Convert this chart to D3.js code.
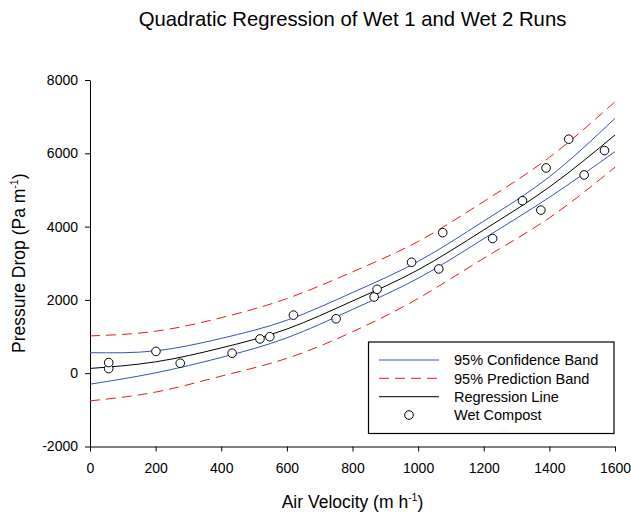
<!DOCTYPE html>
<html>
<head>
<meta charset="utf-8">
<script src="https://cdn.jsdelivr.net/npm/d3@7"></script>
<style>
  body { margin: 0; background: #fff; }
  svg text { font-family: Arial, "Liberation Sans", sans-serif; fill: #000; }
</style>
</head>
<body>
<div id="vis"></div>
<script>
// measured points (Wet 1 + Wet 2 runs)
var velocity = [57, 57, 201, 275, 433, 518, 548, 620, 750, 866, 875, 980, 1063, 1075, 1227, 1318, 1374, 1390, 1459, 1506, 1568];
var pressure = [126, 290, 595, 272, 545, 935, 995, 1585, 1485, 2080, 2290, 3027, 2845, 3835, 3675, 4707, 4450, 5600, 6385, 5410, 6075];

// curves at these velocities
var curveV = [0, 200, 400, 600, 800, 1000, 1200, 1400, 1600];
var regLine = [130, 310, 690, 1205, 1970, 2820, 3910, 5080, 6500];
var upperConf = [560, 610, 950, 1445, 2200, 3050, 4150, 5360, 6955];
var lowerConf = [-300, 10, 430, 965, 1740, 2590, 3670, 4800, 6045];
var upperPred = [1017, 1145, 1515, 2035, 2765, 3595, 4685, 5890, 7405];
var lowerPred = [-755, -515, -80, 405, 1130, 2040, 3135, 4240, 5620];

var xTicks = [0, 200, 400, 600, 800, 1000, 1200, 1400, 1600];
var yTicks = [-2000, 0, 2000, 4000, 6000, 8000];

var legendLabels = ['95% Confidence Band', '95% Prediction Band', 'Regression Line', 'Wet Compost'];

var width = 631, height = 515;
var plotL = 90, plotR = 615, plotT = 80, plotB = 446.5;

var svg = d3.select('#vis').append('svg')
  .attr('width', width)
  .attr('height', height);

var x = d3.scaleLinear().domain([0, 1600]).range([plotL, plotR]);
var y = d3.scaleLinear().domain([-2000, 8000]).range([plotB, plotT]);

// title
svg.append('text')
  .attr('x', (plotL + plotR) / 2)
  .attr('y', 26)
  .attr('text-anchor', 'middle')
  .attr('font-size', 20.3)
  .text('Quadratic Regression of Wet 1 and Wet 2 Runs');

// axes (plain hyphen for negatives, like the original)
function plain(d) { return String(d); }

svg.append('g')
  .attr('transform', 'translate(0,' + plotB + ')')
  .call(d3.axisBottom(x).tickValues(xTicks).tickSize(5).tickSizeOuter(0).tickPadding(12).tickFormat(plain));
svg.append('g')
  .attr('transform', 'translate(' + plotL + ',0)')
  .call(d3.axisLeft(y).tickValues(yTicks).tickSize(5).tickSizeOuter(0).tickPadding(7).tickFormat(plain));

svg.selectAll('.tick text').attr('font-size', 14).attr('font-family', 'Arial, "Liberation Sans", sans-serif');
svg.selectAll('.domain, .tick line').attr('stroke', '#000');

// axis titles
var xt = svg.append('text')
  .attr('x', (plotL + plotR) / 2)
  .attr('y', 508)
  .attr('text-anchor', 'middle')
  .attr('font-size', 17.5);
xt.append('tspan').text('Air Velocity (m h');
xt.append('tspan').attr('font-size', 10.5).attr('dy', -7).text('-1');
xt.append('tspan').attr('dy', 7).text(')');

var yt = svg.append('text')
  .attr('transform', 'translate(25,' + ((plotT + plotB) / 2) + ') rotate(-90)')
  .attr('text-anchor', 'middle')
  .attr('font-size', 17.5);
yt.append('tspan').text('Pressure Drop (Pa m');
yt.append('tspan').attr('font-size', 10.5).attr('dy', -7).text('-1');
yt.append('tspan').attr('dy', 7).text(')');

// curves
var line = d3.line()
  .x(function(d) { return x(d[0]); })
  .y(function(d) { return y(d[1]); })
  .curve(d3.curveNatural);

function drawCurve(vals, color, dash) {
  svg.append('path')
    .datum(curveV.map(function(v, i) { return [v, vals[i]]; }))
    .attr('d', line)
    .attr('fill', 'none')
    .attr('stroke', color)
    .attr('stroke-width', 1)
    .attr('stroke-dasharray', dash || null);
}

drawCurve(upperPred, '#f01818', '10,6');
drawCurve(lowerPred, '#f01818', '10,6');
drawCurve(upperConf, '#3355b0');
drawCurve(lowerConf, '#3355b0');
drawCurve(regLine, '#000');

// points
svg.selectAll('.pt')
  .data(velocity)
  .enter().append('circle')
  .attr('class', 'pt')
  .attr('cx', function(d) { return x(d); })
  .attr('cy', function(d, i) { return y(pressure[i]); })
  .attr('r', 4.3)
  .attr('fill', '#fff')
  .attr('stroke', '#000')
  .attr('stroke-width', 1);

// legend
var lg = svg.append('g');
lg.append('rect')
  .attr('x', 368.5).attr('y', 342)
  .attr('width', 245.5).attr('height', 91.5)
  .attr('fill', '#fff')
  .attr('stroke', '#000')
  .attr('stroke-width', 1.2);

var rowY = [360, 378.3, 396.7, 415];
var styles = [
  { color: '#3355b0', dash: null },
  { color: '#f01818', dash: '10,6' },
  { color: '#000', dash: null }
];
styles.forEach(function(s, i) {
  lg.append('line')
    .attr('x1', 379).attr('x2', 439)
    .attr('y1', rowY[i]).attr('y2', rowY[i])
    .attr('stroke', s.color)
    .attr('stroke-width', 1)
    .attr('stroke-dasharray', s.dash);
});
lg.append('circle')
  .attr('cx', 409).attr('cy', rowY[3])
  .attr('r', 4.3)
  .attr('fill', '#fff')
  .attr('stroke', '#000');

legendLabels.forEach(function(t, i) {
  lg.append('text')
    .attr('x', 454)
    .attr('y', rowY[i] + 5.3)
    .attr('font-size', 14.5)
    .text(t);
});
</script>
</body>
</html>
